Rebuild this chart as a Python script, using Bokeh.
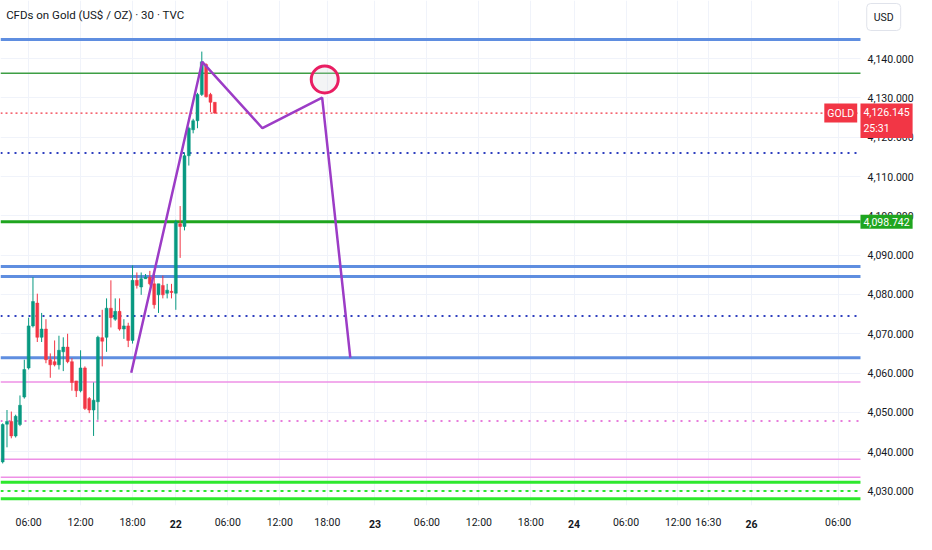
from bokeh.plotting import figure
from bokeh.models import (ColumnDataSource, Label, FixedTicker, BoxAnnotation,
                          NumeralTickFormatter, Range1d, LinearAxis)
from bokeh.embed import file_html
from bokeh.resources import INLINE

FONT = "Roboto"

title_text = "CFDs on Gold (US$ / OZ) \u00b7 30 \u00b7 TVC"

# ---- candle data (bar index, 30-min bars; 0 = 22nd 00:00) ----
bar_idx = list(range(-40, 10))
opens = [4037.4, 4047.0, 4047.7, 4044.0, 4046.9, 4053.9, 4061.3, 4072.0, 4077.8, 4069.1,
         4071.2, 4063.4, 4062.9, 4062.1, 4065.4, 4066.6, 4062.9, 4058.0, 4055.5, 4061.3,
         4053.5, 4050.6, 4052.7, 4069.0, 4069.1, 4076.5, 4073.7, 4075.7, 4071.2, 4072.0,
         4068.3, 4083.6, 4081.9, 4084.0, 4084.4, 4082.7, 4079.9, 4082.3, 4080.3, 4080.8,
         4080.3, 4098.0, 4097.3, 4115.3, 4121.9, 4124.2, 4130.9, 4138.5, 4130.9, 4128.9]
highs = [4047.2, 4050.6, 4050.2, 4049.4, 4054.3, 4063.4, 4074.1, 4084.4, 4080.2, 4075.3,
         4073.7, 4065.0, 4068.3, 4069.5, 4069.1, 4070.0, 4063.8, 4058.0, 4065.8, 4061.7,
         4053.9, 4057.6, 4069.5, 4076.1, 4079.0, 4083.6, 4079.0, 4079.0, 4073.7, 4072.8,
         4087.4, 4085.6, 4085.6, 4085.2, 4086.0, 4085.2, 4082.7, 4084.8, 4082.7, 4082.7,
         4099.0, 4102.5, 4116.1, 4122.7, 4124.7, 4131.3, 4141.8, 4138.8, 4131.3, 4128.9]
lows = [4037.0, 4041.1, 4043.4, 4043.6, 4046.5, 4053.5, 4060.9, 4071.6, 4067.9, 4067.9,
        4062.5, 4058.8, 4061.7, 4060.9, 4060.5, 4062.5, 4055.5, 4053.9, 4055.1, 4050.6,
        4049.8, 4044.0, 4048.1, 4061.7, 4065.4, 4071.6, 4073.3, 4070.8, 4068.7, 4066.6,
        4067.5, 4081.5, 4079.9, 4084.0, 4082.3, 4076.4, 4075.3, 4079.0, 4079.0, 4079.0,
        4076.1, 4089.3, 4096.3, 4112.8, 4121.0, 4122.3, 4130.5, 4130.1, 4126.4, 4126.0]
closes = [4046.9, 4047.7, 4044.0, 4049.0, 4051.8, 4060.9, 4072.0, 4078.2, 4069.1, 4071.2,
          4063.4, 4062.1, 4062.1, 4065.8, 4066.6, 4062.9, 4057.6, 4055.5, 4061.3, 4051.0,
          4050.6, 4053.1, 4069.1, 4068.1, 4076.5, 4074.1, 4075.7, 4071.2, 4072.0, 4068.3,
          4083.6, 4082.3, 4084.0, 4084.4, 4082.7, 4077.4, 4082.7, 4079.9, 4081.1, 4080.5,
          4098.4, 4097.3, 4115.3, 4122.3, 4124.2, 4130.9, 4139.2, 4130.3, 4128.9, 4126.145]

# ---- axis ticks ----
time_tick_idx = [-34, -22, -10, 0, 12, 24, 35, 46, 58, 70, 82, 92, 104, 116, 123, 133, 153]
time_tick_labels = ["06:00", "12:00", "18:00", "22", "06:00", "12:00", "18:00", "23",
                    "06:00", "12:00", "18:00", "24", "06:00", "12:00", "16:30", "26", "06:00"]
price_ticks = [4030, 4040, 4050, 4060, 4070, 4080, 4090, 4100, 4110, 4120, 4130, 4140]

# ---- horizontal levels ----
blue_levels = [4144.9, 4087.1, 4084.6, 4063.9]
blue_dotted_levels = [4116.0, 4074.5]
green_thin_levels = [4136.3]
green_thick_levels = [4098.5]
pink_levels = [4057.7, 4038.1, 4033.5]
pink_dotted_levels = [4047.8]
lime_levels = [4032.2, 4028.0]
lime_dotted_levels = [4030.0]
last_price = 4126.145
last_price_text = "4,126.145"
countdown_text = "25:31"
symbol_text = "GOLD"
green_level_text = "4,098.742"
currency_text = "USD"

# ---- drawing: path and circle ----
path_idx = [-10.3, 6.1, 20.0, 33.8, 40.3]
path_price = [4060.1, 4139.2, 4122.3, 4130.1, 4063.9]
circle_idx = [34.4]
circle_price = [4134.7]

UP = "#089981"
DOWN = "#f23645"

X0, X1 = -40.5, 170.4      # full canvas width in bar units
SCALE_X = 158.15           # where the price scale begins
Y0, Y1 = 4026.3, 4154.8

p = figure(width=916, height=534, output_backend="svg", toolbar_location=None,
           x_range=Range1d(X0, X1), y_range=Range1d(Y0, Y1),
           y_axis_location="right",
           min_border_left=0, min_border_top=0, min_border_right=0, min_border_bottom=29)
p.outline_line_color = None
p.background_fill_color = "white"
p.border_fill_color = "white"

# grids
p.xgrid.ticker = FixedTicker(ticks=time_tick_idx)
p.ygrid.ticker = FixedTicker(ticks=price_ticks)
p.xgrid.grid_line_color = "#f0f3fa"
p.ygrid.grid_line_color = "#f0f3fa"
# price-scale background hides the grid there
p.add_layout(BoxAnnotation(left=SCALE_X, fill_color="white", fill_alpha=1.0,
                           line_color=None, level="underlay"))

# axes: hours in normal weight, day numbers in bold
hour_ticks = [t for t, l in zip(time_tick_idx, time_tick_labels) if ":" in l]
day_ticks = [t for t, l in zip(time_tick_idx, time_tick_labels) if ":" not in l]
overrides = {t: l for t, l in zip(time_tick_idx, time_tick_labels)}

xa = p.xaxis[0]
xa.ticker = FixedTicker(ticks=hour_ticks)
xa.major_label_overrides = overrides
xd = LinearAxis(ticker=FixedTicker(ticks=day_ticks), major_label_overrides=overrides)
p.add_layout(xd, "below")
ya = p.yaxis[0]
ya.ticker = FixedTicker(ticks=price_ticks)
ya.formatter = NumeralTickFormatter(format="0,0.000")
for ax in (xa, xd, ya):
    ax.axis_line_color = None
    ax.major_tick_line_color = None
    ax.minor_tick_line_color = None
    ax.major_tick_out = 0
    ax.major_tick_in = 0
    ax.major_label_text_font = FONT
    ax.major_label_text_font_size = "10.5px"
    ax.major_label_text_color = "#131722"
xd.major_label_text_font_style = "bold"
xa.major_label_standoff = 10
xd.major_label_standoff = -12
ya.major_label_standoff = -46

# levels (end at the price scale)
def add_levels(levels, color, width, dash="solid"):
    p.segment(x0=[X0] * len(levels), y0=levels, x1=[SCALE_X] * len(levels), y1=levels,
              line_color=color, line_width=width, line_dash=dash)

add_levels(blue_levels, "#5f8ee0", 3)
add_levels(blue_dotted_levels, "#2e3fbf", 2, "2 5")
add_levels(green_thin_levels, "#3d9e44", 1.5)
add_levels(green_thick_levels, "#1fa51f", 3)
add_levels(pink_levels, "#ee90e6", 1.5)
add_levels(pink_dotted_levels, "#e050d0", 1.5, "2 6")
add_levels(lime_levels, "#2ee82e", 3)
add_levels(lime_dotted_levels, "#2ee82e", 2, "3 4")
add_levels([last_price], "#f23645", 1.2, "2 3")

# candles
colors = [UP if c >= o else DOWN for o, c in zip(opens, closes)]
src = ColumnDataSource(dict(x=bar_idx, o=opens, h=highs, l=lows, c=closes,
                            top=[max(o, c) for o, c in zip(opens, closes)],
                            bot=[min(o, c) for o, c in zip(opens, closes)],
                            color=colors))
p.segment(x0="x", y0="h", x1="x", y1="l", color="color", line_width=1, source=src)
p.vbar(x="x", top="top", bottom="bot", width=0.68, fill_color="color",
       line_color="color", line_width=0.5, source=src)

# drawings
p.line(path_idx, path_price, line_color="#9c3cc6", line_width=2.5)
p.scatter(circle_idx, circle_price, marker="circle", size=27, fill_color="#cfd3d8",
          fill_alpha=0.25, line_color="#e91e63", line_width=3)

# title
p.add_layout(Label(x=-39.2, y=4151.1, text=title_text, text_font=FONT,
                   text_font_size="11.5px", text_color="#131722", text_baseline="middle"))

# price scale badges
p.add_layout(Label(x=SCALE_X - 0.75, y=last_price, text=symbol_text, text_font=FONT,
                   text_font_size="10.5px", text_color="white", text_baseline="middle",
                   text_align="right", background_fill_color=DOWN, padding=3))
p.add_layout(Label(x=SCALE_X, y=4128.6, text=last_price_text + "\n" + countdown_text,
                   text_font=FONT, text_font_size="10.5px", text_color="white",
                   text_baseline="top", background_fill_color=DOWN, padding=3))
p.add_layout(Label(x=SCALE_X, y=4098.5, text=green_level_text, text_font=FONT,
                   text_font_size="10.5px", text_color="white", text_baseline="middle",
                   background_fill_color="#1fa51f", padding=3))
p.add_layout(Label(x=159.6, y=4150.6, text=currency_text, text_font=FONT,
                   text_font_size="10.5px", text_color="#131722", text_baseline="middle",
                   background_fill_color="white", border_line_color="#e0e3eb",
                   padding=7, border_radius=4))

open("out.html", "w").write(file_html(p, INLINE))
